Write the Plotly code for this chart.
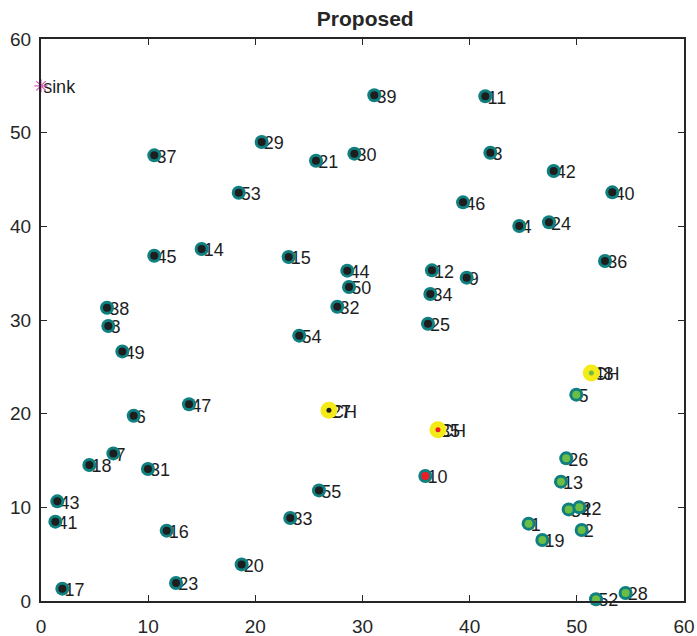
import plotly.graph_objects as go

# ---- data ----
node_labels = ["1", "2", "3", "4", "5", "6", "7", "8", "9", "10",
               "11", "12", "13", "14", "15", "16", "17", "18", "19", "20",
               "21", "22", "23", "24", "25", "26", "27", "28", "29", "30",
               "31", "32", "33", "34", "35", "36", "37", "38", "39", "40",
               "41", "42", "43", "44", "45", "46", "47", "48", "49", "50",
               "34", "52", "53", "54", "55"]
node_x = [45.50, 50.45, 41.93, 44.63, 49.95, 8.65, 6.75, 6.28, 39.72, 35.86,
          41.46, 36.48, 48.52, 14.99, 23.11, 11.73, 1.99, 4.51, 46.78, 18.72,
          25.66, 50.23, 12.60, 47.40, 36.11, 49.01, 26.87, 54.55, 20.59, 29.24,
          9.98, 27.65, 23.26, 36.33, 37.04, 52.63, 10.57, 6.16, 31.10, 53.31,
          1.34, 47.84, 1.52, 28.58, 10.57, 39.38, 13.81, 51.35, 7.59, 28.74,
          49.24, 51.79, 18.45, 24.10, 25.94]
node_y = [8.26, 7.58, 47.86, 40.03, 22.03, 19.78, 15.76, 29.36, 34.52, 13.34,
          53.88, 35.30, 12.74, 37.58, 36.72, 7.51, 1.32, 14.52, 6.51, 3.91,
          47.00, 10.00, 1.92, 40.43, 29.60, 15.23, 20.36, 0.85, 49.00, 47.76,
          14.09, 31.42, 8.86, 32.77, 18.29, 36.30, 47.58, 31.31, 54.00, 43.63,
          8.47, 45.90, 10.64, 35.27, 36.86, 42.56, 21.00, 24.34, 26.65, 33.52,
          9.78, 0.18, 43.59, 28.33, 11.81]
# cluster of each node: "k" (CH 27), "r" (CH 35), "g" (CH 48)
node_cluster = ["g", "g", "k", "k", "g", "k", "k", "k", "k", "r",
                "k", "k", "g", "k", "k", "k", "k", "k", "g", "k",
                "k", "g", "k", "k", "k", "g", "k", "g", "k", "k",
                "k", "k", "k", "k", "r", "k", "k", "k", "k", "k",
                "k", "k", "k", "k", "k", "k", "k", "g", "k", "k",
                "g", "g", "k", "k", "k"]
ch_labels = ["27", "35", "48"]
sink_x = [0]
sink_y = [55]
sink_label = ["sink"]

cluster_colors = {"k": "#1e1e1e", "r": "#ee1c24", "g": "#6cbd45"}
TEAL = "#0f7f80"
YELLOW = "#f4ea17"
FONT = "Liberation Sans, Arial, sans-serif"
TXT = "#1e1e1e"
LABEL_DX = 0.2    # small text offset (data units) like MATLAB text()
LABEL_DY = -0.3

ch_idx = [node_labels.index(c) for c in ch_labels]
ch_x = [node_x[i] for i in ch_idx]
ch_y = [node_y[i] for i in ch_idx]
ch_col = [cluster_colors[node_cluster[i]] for i in ch_idx]
normal_idx = [i for i in range(len(node_x)) if i not in ch_idx]


def shifted(xs, ys):
    # keep labels inside the axis range (plotly hides off-range text)
    return [v + LABEL_DX for v in xs], [max(0.0, v + LABEL_DY) for v in ys]


fig = go.Figure()

# labels first so markers sit on top of them
label_font = dict(family=FONT, size=18, color=TXT)
for xs, ys, texts in [(node_x, node_y, node_labels),
                      (ch_x, ch_y, ["CH"] * len(ch_x)),
                      (sink_x, sink_y, sink_label)]:
    lx, ly = shifted(xs, ys)
    fig.add_trace(go.Scatter(
        x=lx, y=ly, mode="text", text=texts,
        textposition="middle right", textfont=label_font,
        cliponaxis=False, hoverinfo="skip"))

# teal rings
fig.add_trace(go.Scatter(
    x=node_x, y=node_y, mode="markers",
    marker=dict(size=14, color=TEAL, line=dict(width=0)), cliponaxis=False))
# inner dots
fig.add_trace(go.Scatter(
    x=[node_x[i] for i in normal_idx], y=[node_y[i] for i in normal_idx],
    mode="markers",
    marker=dict(size=8, color=[cluster_colors[node_cluster[i]] for i in normal_idx],
                line=dict(width=0)), cliponaxis=False))
# cluster heads
fig.add_trace(go.Scatter(
    x=ch_x, y=ch_y, mode="markers",
    marker=dict(size=17, color=YELLOW, line=dict(width=0)), cliponaxis=False))
fig.add_trace(go.Scatter(
    x=ch_x, y=ch_y, mode="markers",
    marker=dict(size=5, color=ch_col, line=dict(width=0)), cliponaxis=False))
# sink
fig.add_trace(go.Scatter(
    x=sink_x, y=sink_y, mode="markers",
    marker=dict(symbol="asterisk-open", size=11, color="#d65fbf",
                line=dict(width=1.2, color="#d65fbf")), cliponaxis=False))

axis_common = dict(
    range=[0, 60], dtick=10, tick0=0, ticks="inside", ticklen=6, tickwidth=1.2,
    tickcolor="#262626", showline=True, linewidth=2, linecolor="#262626",
    mirror="ticks", showgrid=False, zeroline=False, automargin=False,
    tickfont=dict(family=FONT, size=19, color="#262626"))

fig.update_layout(
    width=697, height=636,
    margin=dict(l=41, r=13, t=39, b=35, autoexpand=False),
    paper_bgcolor="white", plot_bgcolor="white",
    showlegend=False,
    title=dict(text="<b>Proposed</b>", x=0.524, xref="container",
               xanchor="center", y=0.97, yref="container", yanchor="middle",
               font=dict(family=FONT, size=21, color="#262626")),
    xaxis=dict(**axis_common, ticklabelstandoff=7),
    yaxis=dict(**axis_common, ticklabelstandoff=4),
)

fig.write_html(
    "out.html",
    config={"displayModeBar": False},
    post_script="document.body.style.margin='0';"
                "document.body.style.overflow='hidden';")
